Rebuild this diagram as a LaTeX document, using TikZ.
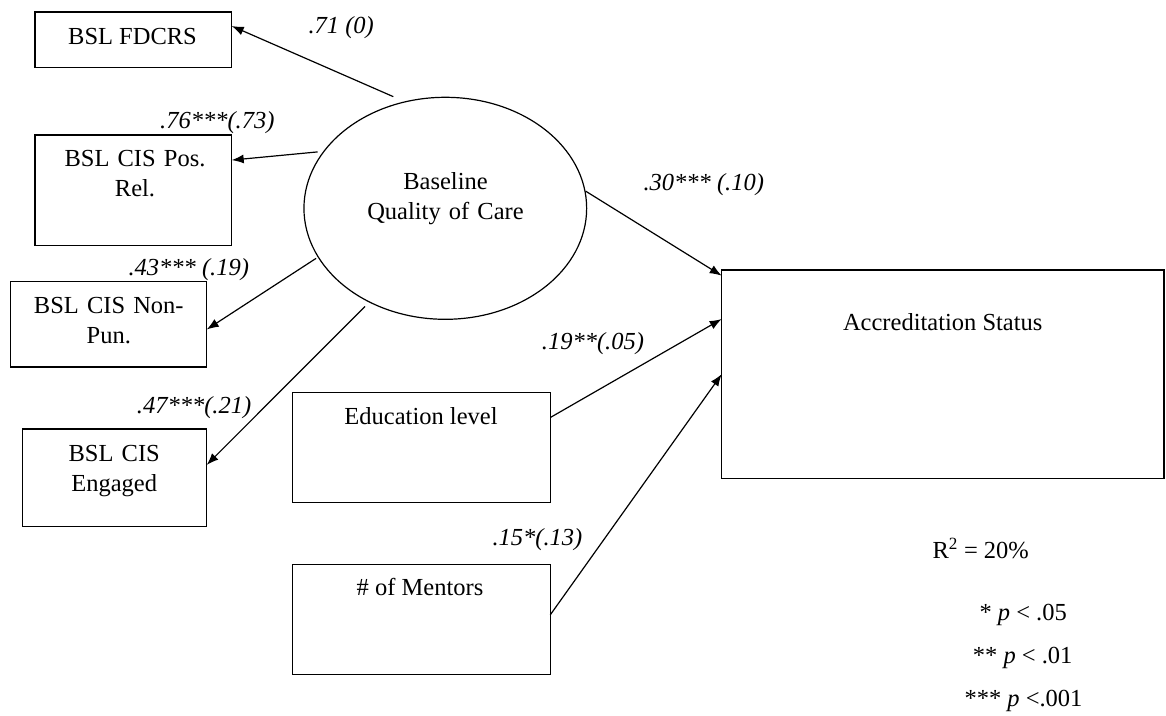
\documentclass[tikz,border=0pt]{standalone}
\usepackage{fontspec}
\setmainfont{Liberation Serif}
\usetikzlibrary{arrows.meta,shapes.geometric}
\newcommand\figfs{\fontsize{24.5}{30}\selectfont}
\begin{document}
\begin{tikzpicture}[x=1pt,y=-1pt,
  box/.style={draw, line width=1.3pt, rectangle, inner sep=0pt, outer sep=0pt},
  txt/.style={inner sep=0pt, anchor=base, font=\figfs},
  mtxt/.style={inner sep=0pt, anchor=base, font=\figfs, text width=#1, align=center},
  lbl/.style={inner sep=0pt, anchor=base west, font=\figfs\itshape},
  note/.style={inner sep=0pt, anchor=base west, font=\figfs},
  arr/.style={line width=1.2pt, -{Latex[length=12pt,width=9pt]}}]
\useasboundingbox[fill=white] (0,0) rectangle (1166,715);

% boxes
\node[box, minimum width=196.7pt, minimum height=55.7pt] (fd) at (133.35,39.85) {};
\node[box, minimum width=196.7pt, minimum height=110.3pt] (pos) at (133.35,190.15) {};
\node[box, minimum width=196pt, minimum height=85.3pt] (np) at (108.7,324.35) {};
\node[box, minimum width=184pt, minimum height=97.7pt] (eng) at (114.7,477.85) {};
\node[box, minimum width=442.3pt, minimum height=208.3pt] (acc) at (942.85,374.15) {};
\node[box, minimum width=258pt, minimum height=110pt] (edu) at (421.3,447.3) {};
\node[box, minimum width=258pt, minimum height=110pt] (men) at (421.3,619.3) {};
\node[draw, ellipse, line width=1.2pt, minimum width=282.7pt, minimum height=222pt, inner sep=0pt] (ell) at (445.3,208.3) {};

% box texts
\node[txt] (fdT) at (132.5,44.3) {BSL FDCRS};
\node[mtxt=190pt] (posT) at (135,166.7) {BSL CIS Pos.\\Rel.};
\node[mtxt=190pt] (npT) at (108.8,313.3) {BSL CIS Non-\\Pun.};
\node[mtxt=180pt] (engT) at (114.2,461.7) {BSL CIS\\Engaged};
\node[mtxt=270pt] (ellT) at (445.5,189.3) {Baseline\\Quality of Care};
\node[txt] (eduT) at (421,424) {Education level};
\node[txt] (menT) at (420,595.7) {\# of Mentors};
\node[txt] (accT) at (942.7,330.7) {Accreditation Status};

% connectors
\draw[arr, shorten <=12pt] (ell.111.8) -- (fd.8.59);
\draw[arr, shorten <=5.7pt] (ell.155.4) -- (pos.17.42);
\draw[arr, shorten <=2pt] (ell.201.6) -- (np.-3.3);
\draw[arr, shorten <=5.7pt] (ell.231.7) -- (eng.8.99);
\draw[arr] (ell.7.7) -- (acc.156.94);
\draw[arr] (edu.13.64) -- (acc.166.07);
\draw[arr] (men.2.93) -- (acc.180.66);

% path labels
\node[lbl] (l1) at (308.3,33.3) {.71 (0)};
\node[lbl] (l2) at (160,128.3) {.76***(.73)};
\node[lbl] (l3) at (128.3,275) {.43*** (.19)};
\node[lbl] (l4) at (136.7,413.3) {.47***(.21)};
\node[lbl] (l5) at (643.3,190) {.30*** (.10)};
\node[lbl] (l6) at (541.7,349.3) {.19**(.05)};
\node[lbl] (l7) at (492.3,545.7) {.15*(.13)};

% notes
\node[note] (r2) at (932.3,558.3) {R\textsuperscript{2} = 20\%};
\node[note] (p1) at (979.3,620) {* \textit{p} < .05};
\node[note] (p2) at (972.7,663.3) {** \textit{p} < .01};
\node[note] (p3) at (964.3,706.7) {*** \textit{p} <.001};
\end{tikzpicture}
\end{document}
